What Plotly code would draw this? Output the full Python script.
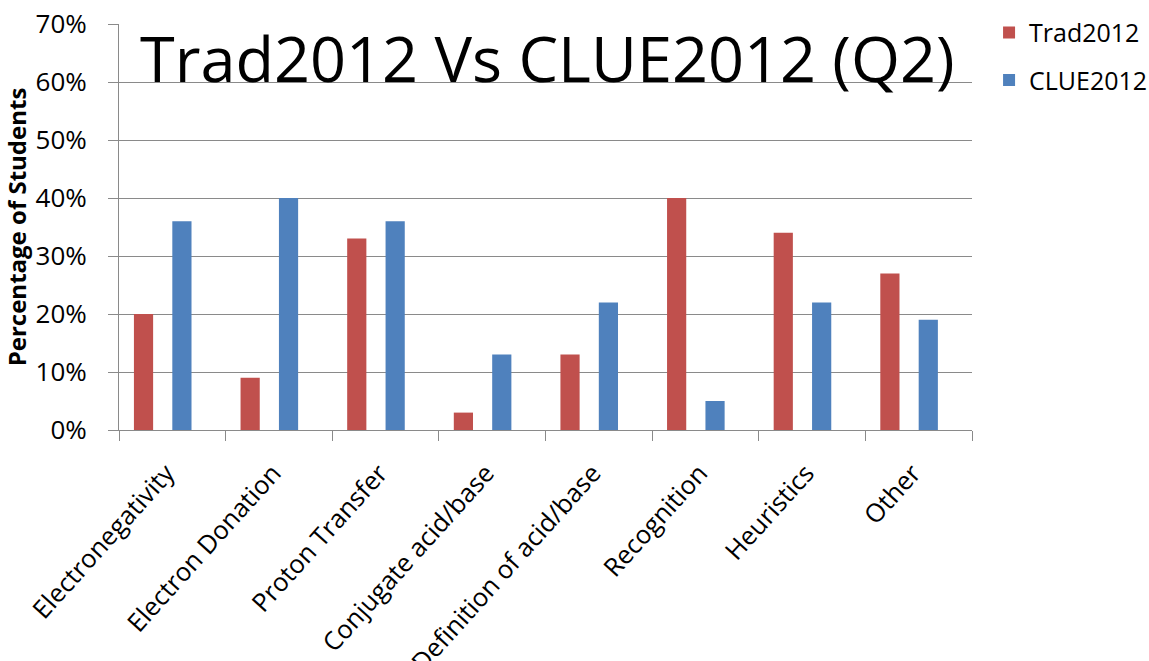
import plotly.graph_objects as go

categories = ["Electronegativity", "Electron Donation", "Proton Transfer",
              "Conjugate acid/base", "Definition of acid/base", "Recognition",
              "Heuristics", "Other"]
trad2012 = [20, 9, 33, 3, 13, 40, 34, 27]
clue2012 = [36, 40, 36, 13, 22, 5, 22, 19]
y_ticks = [0, 10, 20, 30, 40, 50, 60, 70]
y_tick_labels = [f"{v}%" for v in y_ticks]

FONT = "Open Sans"
GRID = "#8a8a8a"

fig = go.Figure()
fig.add_trace(go.Bar(x=categories, y=trad2012, name="Trad2012",
                     marker=dict(color="#C0504D", line=dict(width=0)),
                     offset=-0.36, width=0.18, legendgroup="a"))
fig.add_trace(go.Bar(x=categories, y=clue2012, name="CLUE2012",
                     marker=dict(color="#4F81BD", line=dict(width=0)),
                     offset=0.0, width=0.18, legendgroup="b"))

fig.add_annotation(text="Trad2012 Vs CLUE2012 (Q2)", xref="paper", yref="paper",
                   x=0.502, y=0.918, xanchor="center", yanchor="middle",
                   showarrow=False, font=dict(family=FONT, size=63, color="black"))

fig.update_layout(
    width=1149, height=661,
    margin=dict(l=119, r=177, t=24, b=231, autoexpand=False),
    paper_bgcolor="white", plot_bgcolor="white",
    barmode="overlay",
    font=dict(family=FONT, size=22, color="black"),
    legend=dict(x=1.02, y=1.035, xanchor="left", yanchor="top",
                font=dict(family=FONT, size=25), tracegroupgap=12,
                itemwidth=30, bgcolor="rgba(0,0,0,0)"),
    xaxis=dict(type="category", showline=True, linecolor=GRID, linewidth=1,
               ticks="outside", tickson="boundaries", ticklen=10, tickcolor=GRID,
               tickangle=-48, tickfont=dict(family=FONT, size=25.5),
               ticklabelshift=-6, ticklabelstandoff=17,
               showgrid=False),
    yaxis=dict(range=[0, 70], tickvals=y_ticks, ticktext=y_tick_labels,
               showline=True, linecolor=GRID, linewidth=1,
               ticks="outside", ticklen=10, tickcolor=GRID,
               showgrid=True, gridcolor=GRID, gridwidth=1,
               tickfont=dict(family=FONT, size=26), ticklabelstandoff=16,
               zeroline=False,
               title=dict(text="<b>Percentage of Students</b>",
                          font=dict(family=FONT, size=24), standoff=2)),
)

fig.write_html("out.html")
